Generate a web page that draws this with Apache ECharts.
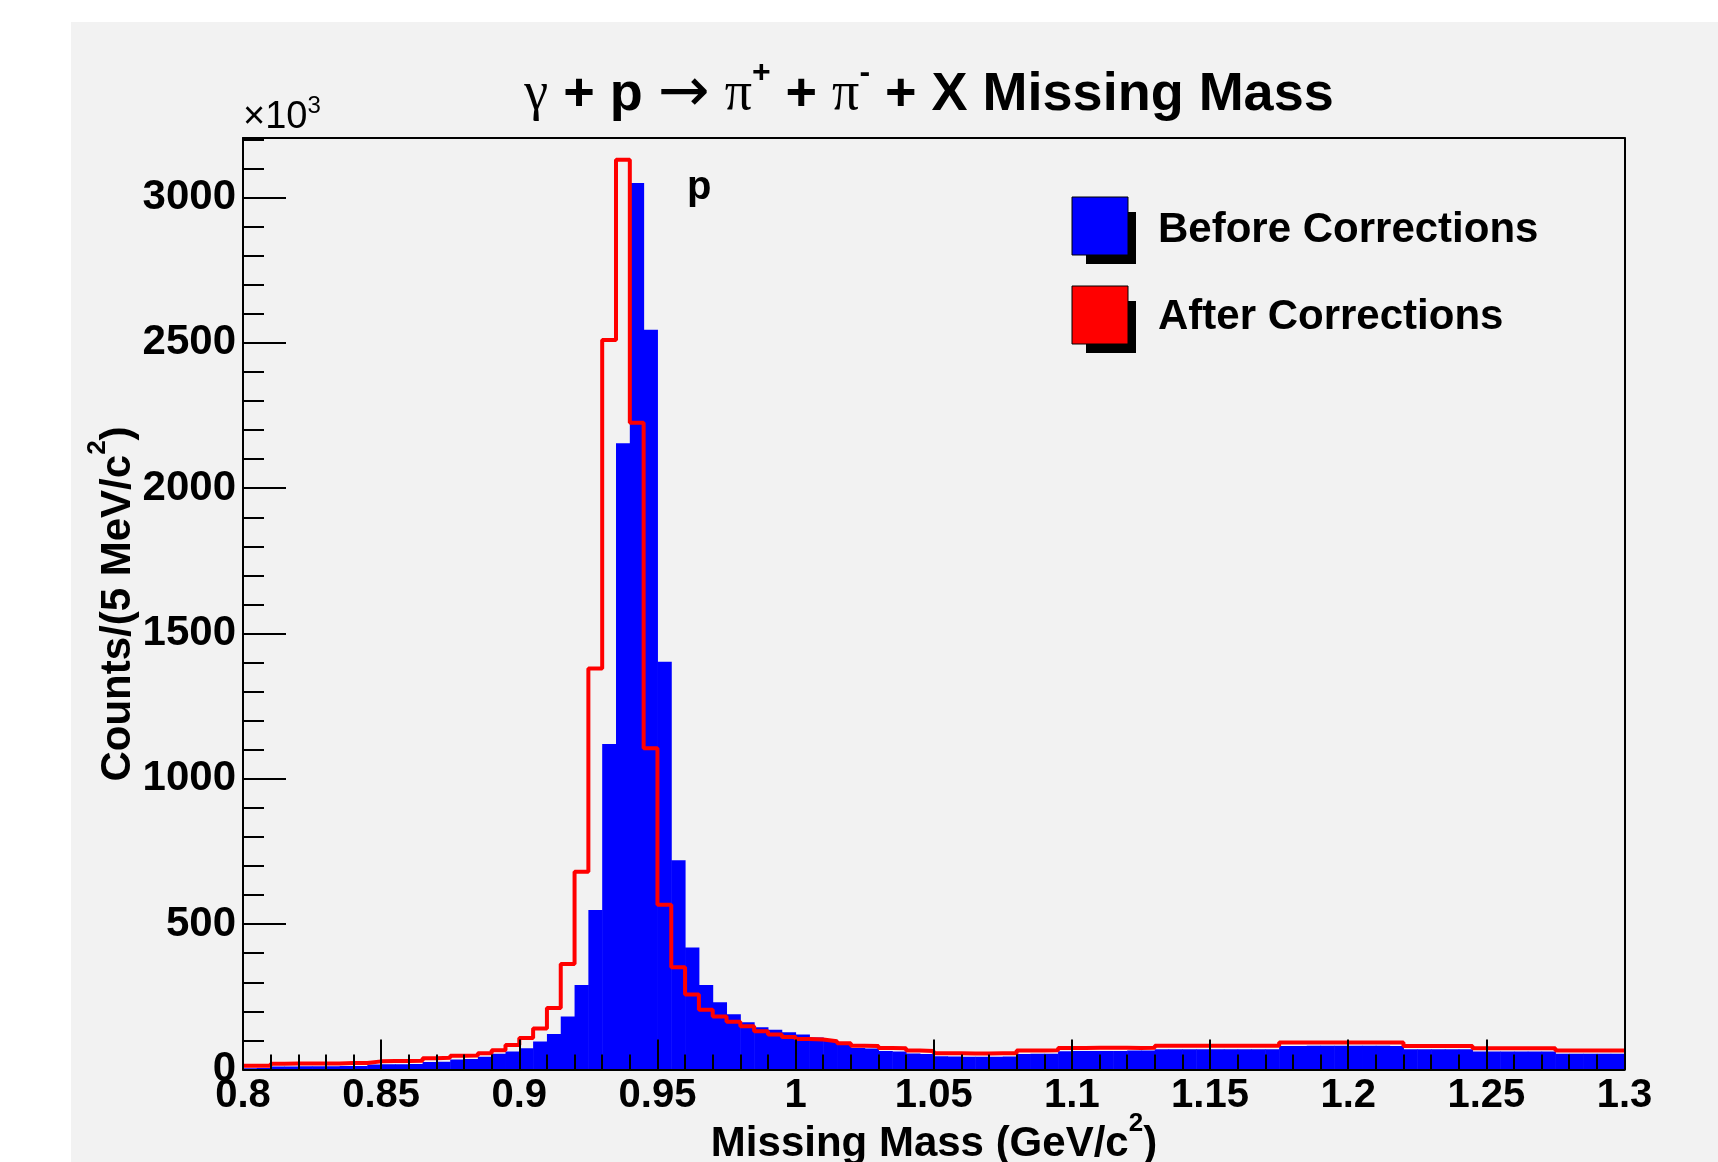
<!DOCTYPE html>
<html>
<head>
<meta charset="utf-8">
<script src="https://cdn.jsdelivr.net/npm/echarts@6/dist/echarts.min.js"></script>
<style>html,body{margin:0;padding:0;background:#fff;}#chart{width:1718px;height:1162px;}</style>
</head>
<body>
<div id="chart"></div>
<script>
// Histogram binning: 100 bins of 5 MeV from 0.80 to 1.30 GeV/c^2 (counts in units of 10^3)
const xMin = 0.8, xMax = 1.3, binWidth = 0.005;
const beforeCounts = [
  4, 5, 10, 10, 11, 11, 11, 12, 12, 17,
  18, 18, 19, 26, 27, 34, 36, 44, 54, 62,
  73, 96, 122, 182, 291, 549, 1120, 2155, 3050, 2545,
  1403, 720, 420, 291, 231, 190, 163, 145, 137, 128,
  120, 110, 98, 86, 74, 72, 64, 62, 55, 53,
  46, 45, 44, 44, 44, 45, 53, 54, 54, 63,
  64, 64, 64, 64, 65, 65, 70, 70, 70, 70,
  70, 70, 70, 70, 70, 81, 81, 82, 82, 82,
  82, 82, 82, 81, 70, 70, 70, 70, 70, 62,
  62, 62, 62, 62, 62, 54, 54, 54, 54, 54
];
const afterCounts = [
  13, 13, 20, 21, 21, 21, 21, 22, 22, 28,
  29, 29, 30, 39, 40, 47, 48, 56, 66, 84,
  108, 141, 212, 363, 680, 1380, 2510, 3130, 2225, 1105,
  567, 352, 258, 206, 182, 164, 149, 132, 120, 112,
  105, 103, 97, 90, 82, 81, 74, 73, 65, 64,
  56, 56, 55, 55, 56, 56, 65, 65, 66, 74,
  74, 75, 75, 75, 74, 75, 82, 82, 82, 82,
  82, 82, 82, 82, 82, 93, 93, 93, 93, 93,
  93, 93, 93, 93, 81, 81, 81, 81, 81, 73,
  73, 73, 73, 73, 73, 65, 65, 65, 65, 65
];
const yMax = 3205;
const yTicksMajor = 500, yTicksMinor = 100;
const xTicksMajor = 0.05, xTicksMinor = 0.01;
const seriesNames = ['Before Corrections', 'After Corrections'];

const FONT = '"Liberation Sans", Arial, Helvetica, sans-serif';
const SERIF = '"Liberation Serif", "DejaVu Serif", serif';
const BG = '#f2f2f2';

const edges = beforeCounts.map((_, i) => +(xMin + i * binWidth).toFixed(4));
const blueData = beforeCounts.map((v, i) => [edges[i], +(edges[i] + binWidth).toFixed(4), v]);
const redData = afterCounts.map((v, i) => [edges[i], v]);
redData.push([xMax, afterCounts[afterCounts.length - 1]]);

const chart = echarts.init(document.getElementById('chart'), null, {renderer: 'canvas'});

const axisCommon = {
  axisLine: {onZero: false, lineStyle: {color: '#000', width: 2}},
  splitLine: {show: false},
  z: 5
};

const option = {
  animation: false,
  backgroundColor: '#fff',
  grid: {left: 243, top: 138, width: 1381.5, height: 931.5, show: false, containLabel: false},
  xAxis: [
    Object.assign({}, axisCommon, {
      type: 'value', position: 'bottom', min: xMin, max: xMax, interval: xTicksMajor,
      axisTick: {inside: true, length: 30, lineStyle: {color: '#000', width: 2}},
      axisLabel: {
        margin: 6, color: '#000', fontFamily: FONT, fontWeight: 'bold', fontSize: 40,
        formatter: v => String(parseFloat(v.toFixed(2)))
      }
    }),
    Object.assign({}, axisCommon, {
      type: 'value', position: 'bottom', min: xMin, max: xMax, interval: xTicksMinor,
      axisLine: {show: false, onZero: false},
      axisTick: {inside: true, length: 15, lineStyle: {color: '#000', width: 2}},
      axisLabel: {show: false}
    }),
    Object.assign({}, axisCommon, {
      type: 'value', position: 'top', min: xMin, max: xMax,
      axisTick: {show: false}, axisLabel: {show: false}
    })
  ],
  yAxis: [
    Object.assign({}, axisCommon, {
      type: 'value', position: 'left', min: 0, max: yMax, interval: yTicksMajor,
      axisTick: {inside: true, length: 43, lineStyle: {color: '#000', width: 2}},
      axisLabel: {
        margin: 7, color: '#000', fontFamily: FONT, fontWeight: 'bold', fontSize: 42,
        showMaxLabel: false,
        formatter: v => (v % yTicksMajor === 0 ? String(v) : '')
      }
    }),
    Object.assign({}, axisCommon, {
      type: 'value', position: 'left', min: 0, max: yMax, interval: yTicksMinor,
      axisLine: {show: false, onZero: false},
      axisTick: {inside: true, length: 21, lineStyle: {color: '#000', width: 2}},
      axisLabel: {show: false}
    }),
    Object.assign({}, axisCommon, {
      type: 'value', position: 'right', min: 0, max: yMax,
      axisTick: {show: false}, axisLabel: {show: false}
    })
  ],
  series: [
    {
      name: seriesNames[0], type: 'custom', xAxisIndex: 0, yAxisIndex: 0,
      data: blueData, encode: {x: [0, 1], y: 2}, z: 2, clip: true,
      itemStyle: {color: '#0000ff'},
      renderItem: function (params, api) {
        const p0 = api.coord([api.value(0), api.value(2)]);
        const p1 = api.coord([api.value(1), 0]);
        return {
          type: 'rect',
          shape: {x: p0[0], y: p0[1], width: p1[0] - p0[0] + 0.5, height: p1[1] - p0[1]},
          style: {fill: '#0000ff'}
        };
      }
    },
    {
      name: seriesNames[1], type: 'line', xAxisIndex: 0, yAxisIndex: 0,
      data: redData, step: 'end', showSymbol: false, symbol: 'none', z: 3,
      lineStyle: {color: '#ff0000', width: 4}, itemStyle: {color: '#ff0000'}
    }
  ],
  graphic: [
    {type: 'rect', z: -10, shape: {x: 71, y: 22, width: 1647, height: 1140}, style: {fill: BG}},
    // Title
    {type: 'text', z: 10, x: 929, y: 95, style: {
      text: '{g|γ}{b| + p }{a|→}{b| }{g|π}{s|+}{b| + }{g|π}{s|-}{b| + X Missing Mass}',
      align: 'center', verticalAlign: 'middle',
      rich: {
        b: {fontFamily: FONT, fontWeight: 'bold', fontSize: 54, lineHeight: 76, fill: '#000'},
        g: {fontFamily: SERIF, fontSize: 54, lineHeight: 76, fill: '#000'},
        a: {fontFamily: '"DejaVu Sans", sans-serif', fontSize: 62, lineHeight: 76, fill: '#000'},
        s: {fontFamily: FONT, fontWeight: 'bold', fontSize: 32, lineHeight: 34, verticalAlign: 'top', fill: '#000'}
      }
    }},
    // x10^3 multiplier
    {type: 'text', z: 10, x: 243, y: 118, style: {
      text: '{a|×10}{s|3}', align: 'left', verticalAlign: 'middle',
      rich: {
        a: {fontFamily: FONT, fontSize: 38, lineHeight: 48, fill: '#000'},
        s: {fontFamily: FONT, fontSize: 24, lineHeight: 26, verticalAlign: 'top', fill: '#000'}
      }
    }},
    // peak label
    {type: 'text', z: 10, x: 687, y: 188, style: {
      text: 'p', fontFamily: FONT, fontWeight: 'bold', fontSize: 40, fill: '#000',
      align: 'left', verticalAlign: 'middle'
    }},
    // x axis title
    {type: 'text', z: 10, x: 934, y: 1144, style: {
      text: '{b|Missing Mass (GeV/c}{s|2}{b|)}', align: 'center', verticalAlign: 'middle',
      rich: {
        b: {fontFamily: FONT, fontWeight: 'bold', fontSize: 42, lineHeight: 66, fill: '#000'},
        s: {fontFamily: FONT, fontWeight: 'bold', fontSize: 26, lineHeight: 30, verticalAlign: 'top', fill: '#000'}
      }
    }},
    // y axis title
    {type: 'text', z: 10, x: 118, y: 604, rotation: Math.PI / 2, style: {
      text: '{b|Counts/(5 MeV/c}{s|2}{b|)}', align: 'center', verticalAlign: 'middle',
      rich: {
        b: {fontFamily: FONT, fontWeight: 'bold', fontSize: 42, lineHeight: 66, fill: '#000'},
        s: {fontFamily: FONT, fontWeight: 'bold', fontSize: 26, lineHeight: 30, verticalAlign: 'top', fill: '#000'}
      }
    }},
    // legend
    {type: 'rect', z: 10, shape: {x: 1086, y: 212, width: 50, height: 52}, style: {fill: '#000'}},
    {type: 'rect', z: 11, shape: {x: 1072, y: 197, width: 56, height: 58}, style: {fill: '#0000ff', stroke: '#000', lineWidth: 1}},
    {type: 'text', z: 11, x: 1158, y: 230, style: {
      text: seriesNames[0], fontFamily: FONT, fontWeight: 'bold', fontSize: 42, fill: '#000',
      align: 'left', verticalAlign: 'middle'
    }},
    {type: 'rect', z: 10, shape: {x: 1086, y: 301, width: 50, height: 52}, style: {fill: '#000'}},
    {type: 'rect', z: 11, shape: {x: 1072, y: 286, width: 56, height: 58}, style: {fill: '#ff0000', stroke: '#000', lineWidth: 1}},
    {type: 'text', z: 11, x: 1158, y: 317, style: {
      text: seriesNames[1], fontFamily: FONT, fontWeight: 'bold', fontSize: 42, fill: '#000',
      align: 'left', verticalAlign: 'middle'
    }}
  ]
};
chart.setOption(option);
</script>
</body>
</html>
